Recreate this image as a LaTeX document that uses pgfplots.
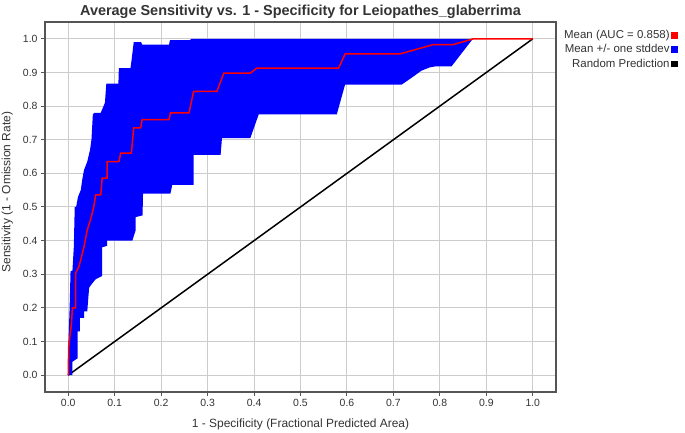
\documentclass[border=0pt]{standalone}
\usepackage{fontspec}
\setmainfont{Liberation Sans}
\usepackage{pgfplots}
\pgfplotsset{compat=1.18}
\definecolor{gridgray}{HTML}{CCCCCC}
\definecolor{framegray}{HTML}{555555}
\definecolor{txt}{HTML}{333333}

\begin{document}
\begin{tikzpicture}
\path[use as bounding box] (0,0) rectangle (685bp,433bp);
\begin{axis}[
  at={(45bp,41bp)}, anchor=south west, scale only axis,
  width=511bp, height=370bp,
  xmin=-0.05, xmax=1.05, ymin=-0.05, ymax=1.05,
  xtick={0,0.1,0.2,0.3,0.4,0.5,0.6,0.7,0.8,0.9,1.0},
  ytick={0,0.1,0.2,0.3,0.4,0.5,0.6,0.7,0.8,0.9,1.0},
  /pgf/number format/assume math mode=true,
  /pgf/number format/fixed, /pgf/number format/fixed zerofill,
  /pgf/number format/precision=1,
  grid=major, grid style={gridgray, line width=1bp},
  axis line style={framegray, line width=1.3bp},
  tick style={framegray, line width=1bp},
  tick align=outside, tick pos=left, major tick length=4bp,
  every tick label/.append style={font=\fontsize{10.5}{12}\selectfont, text=txt},
  label style={font=\fontsize{12}{14}\selectfont, text=txt},
  xlabel style={at={(axis description cs:0.5,-0.0954)}, anchor=base},
  ylabel style={at={(axis description cs:-0.0679,0.54)}, anchor=base},
  every axis title shift=0pt,
  title style={font=\fontsize{14.5}{16}\selectfont\bfseries, text=txt,
    at={(axis description cs:0.5,1.0184)}, anchor=base, yshift=0pt, inner sep=0pt},
  title={Average Sensitivity vs. 1 - Specificity for Leiopathes\_glaberrima},
  xlabel={1 - Specificity (Fractional Predicted Area)},
  ylabel={Sensitivity (1 - Omission Rate)},
  legend style={at={(1,1)}, anchor=north west, xshift=6.5bp, yshift=-6.5bp,
    draw=none, fill=none, inner sep=0pt, font=\fontsize{11.5}{13}\selectfont, text=txt,
    nodes={inner sep=1.5bp}, row sep=1.5bp},
  legend cell align=right, legend plot pos=right,
]
\addlegendimage{legend image code/.code={\fill[red] (8.5bp,-2.7bp) rectangle (14bp,2.7bp);}}
\addlegendentry{Mean (AUC = 0.858)}
\addlegendimage{legend image code/.code={\fill[blue] (8.5bp,-2.7bp) rectangle (14bp,2.7bp);}}
\addlegendentry{Mean +/- one stddev}
\addlegendimage{legend image code/.code={\fill[black] (8.5bp,-2.7bp) rectangle (14bp,2.7bp);}}
\addlegendentry{Random Prediction}

% random prediction
\addplot[black, line width=1.5bp, forget plot] coordinates {(0,0) (1,1)};

% mean +/- one stddev band (upper edge, then lower edge back)
\addplot[fill=blue, draw=none, forget plot] coordinates {
 (0,0) (0,0.08) (0.003,0.2) (0.005,0.31) (0.009,0.31) (0.012,0.38) (0.014,0.5)
 (0.017,0.5) (0.021,0.53) (0.027,0.55) (0.03,0.58) (0.034,0.61) (0.041,0.635)
 (0.047,0.67) (0.05,0.7) (0.053,0.775) (0.056,0.78) (0.07,0.78) (0.079,0.81)
 (0.082,0.867) (0.108,0.867) (0.109,0.913) (0.134,0.913) (0.136,0.933)
 (0.141,0.99) (0.157,0.99) (0.159,0.983) (0.217,0.983) (0.219,0.996)
 (0.262,0.996) (0.265,1) (0.871,1)
 (0.825,0.918) (0.79,0.918) (0.778,0.915) (0.76,0.905) (0.74,0.885)
 (0.718,0.864) (0.596,0.864) (0.578,0.775) (0.41,0.775) (0.392,0.705)
 (0.331,0.705) (0.328,0.655) (0.27,0.655) (0.27,0.566) (0.224,0.566)
 (0.22,0.54) (0.161,0.54) (0.16,0.475) (0.145,0.47) (0.145,0.43) (0.138,0.40)
 (0.084,0.40) (0.084,0.385) (0.073,0.38) (0.073,0.295) (0.059,0.285)
 (0.05,0.27) (0.045,0.26) (0.041,0.19) (0.034,0.19) (0.034,0.17) (0.025,0.17)
 (0.025,0.13) (0.02,0.13) (0.02,0.05) (0.009,0.04) (0.009,0) (0,0)
} -- cycle;

% mean
\addplot[red, line width=1.5bp, forget plot] coordinates {
 (0,0) (0.001,0.084) (0.007,0.154) (0.009,0.2) (0.016,0.2) (0.016,0.303)
 (0.023,0.323) (0.027,0.343) (0.034,0.382) (0.041,0.432) (0.048,0.462)
 (0.055,0.501) (0.059,0.536) (0.07,0.536) (0.073,0.586) (0.084,0.586)
 (0.084,0.635) (0.109,0.635) (0.113,0.66) (0.136,0.66) (0.141,0.735)
 (0.156,0.735) (0.159,0.76) (0.217,0.76) (0.22,0.78) (0.26,0.78)
 (0.27,0.844) (0.32,0.844) (0.335,0.898) (0.392,0.898) (0.406,0.913)
 (0.582,0.913) (0.596,0.955) (0.714,0.955) (0.786,0.983) (0.829,0.983)
 (0.872,1.0) (1,1)
};
\end{axis}
\end{tikzpicture}
\end{document}
